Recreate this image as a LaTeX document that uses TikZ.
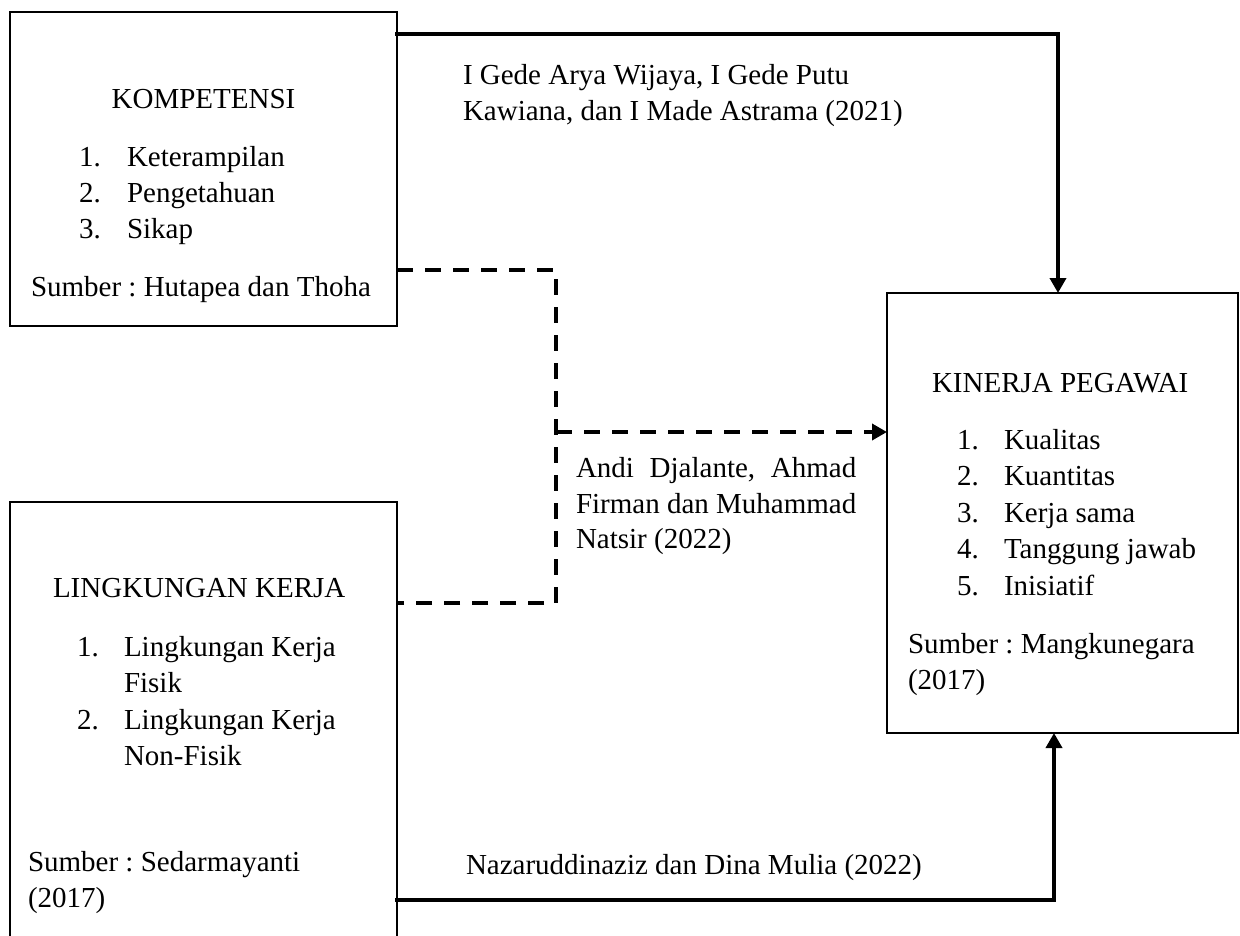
\documentclass[tikz,border=0pt]{standalone}
\usepackage{fontspec}
\usepackage{calc}
\setmainfont{Liberation Serif}
\usetikzlibrary{arrows.meta}
\frenchspacing
\begin{document}
\begin{tikzpicture}[x=1pt,y=-1pt,
  every node/.style={inner sep=0pt,outer sep=0pt,font=\fontsize{29}{36}\selectfont\frenchspacing},
  box/.style={draw=black,line width=1.3pt,rectangle,minimum width=#1},
  txt/.style={anchor=base west},
  conn/.style={line width=3.6pt,line cap=rect},
  dconn/.style={line width=3.6pt,dash pattern=on 16pt off 12pt},
  tip/.style={-{Triangle[length=15pt,width=16pt]}}
]
\useasboundingbox (0,0) rectangle (1240,935);
% boxes
\node[box=387pt,minimum height=314pt] (komp) at (203.5,169) {};
\node[box=387pt,minimum height=460pt] (ling) at (203.5,732) {};
\node[box=351pt,minimum height=440pt] (kin) at (1062.5,513) {};

% box 1 text
\node[anchor=base] (kt) at (203.5,108) {KOMPETENSI};
\node[txt] (k1n) at (79,166) {1.};
\node[txt] (k1) at (127,166) {Keterampilan};
\node[txt] (k2n) at (79,202) {2.};
\node[txt] (k2) at (127,202) {Pengetahuan};
\node[txt] (k3n) at (79,238) {3.};
\node[txt] (k3) at (127,238) {Sikap};
\node[txt] (ks) at (31,296) {Sumber : Hutapea dan Thoha};

% box 2 text
\node[txt] (lt) at (53,597) {LINGKUNGAN KERJA};
\node[txt] (l1n) at (77,656.5) {1.};
\node[txt] (l1) at (124,656.5) {Lingkungan Kerja};
\node[txt] (l1b) at (124,692.5) {Fisik};
\node[txt] (l2n) at (77,729) {2.};
\node[txt] (l2) at (124,729) {Lingkungan Kerja};
\node[txt] (l2b) at (124,765) {Non-Fisik};
\node[txt] (ls) at (28,871) {Sumber : Sedarmayanti};
\node[txt] (ls2) at (28,907) {(2017)};

% box 3 text
\node[txt] (it) at (932,392) {KINERJA PEGAWAI};
\node[txt] (i1n) at (957,449) {1.};
\node[txt] (i1) at (1004,449) {Kualitas};
\node[txt] (i2n) at (957,485.5) {2.};
\node[txt] (i2) at (1004,485.5) {Kuantitas};
\node[txt] (i3n) at (957,522) {3.};
\node[txt] (i3) at (1004,522) {Kerja sama};
\node[txt] (i4n) at (957,558.5) {4.};
\node[txt] (i4) at (1004,558.5) {Tanggung jawab};
\node[txt] (i5n) at (957,595) {5.};
\node[txt] (i5) at (1004,595) {Inisiatif};
\node[txt] (is) at (908,653) {Sumber : Mangkunegara};
\node[txt] (is2) at (908,689) {(2017)};

% connector labels
\node[txt] (a1) at (463,84) {I Gede Arya Wijaya, I Gede Putu};
\node[txt] (a2) at (463,120) {Kawiana, dan I Made Astrama (2021)};
\node[txt] (b1) at (576,477) {\makebox[\widthof{Firman dan Muhammad}][s]{Andi\hfill Djalante,\hfill Ahmad}};
\node[txt] (b2) at (576,513) {Firman dan Muhammad};
\node[txt] (b3) at (576,548) {Natsir (2022)};
\node[txt] (c1) at (466,874) {Nazaruddinaziz dan Dina Mulia (2022)};

% connectors
\coordinate (t1) at (1058,34);
\draw[conn,tip] (komp.east |- t1) -- (t1) -- (t1 |- kin.north);

\coordinate (d1) at (556,270);
\coordinate (d2) at (556,603);
\coordinate (dj) at (556,432);
\draw[dconn] (komp.east |- d1) -- (d1) -- (d2) -- (ling.east |- d2);
\draw[dconn,tip] (dj) -- (kin.west |- dj);

\coordinate (b0) at (1054,900);
\draw[conn,tip] (ling.east |- b0) -- (b0) -- (b0 |- kin.south);
\end{tikzpicture}
\end{document}
